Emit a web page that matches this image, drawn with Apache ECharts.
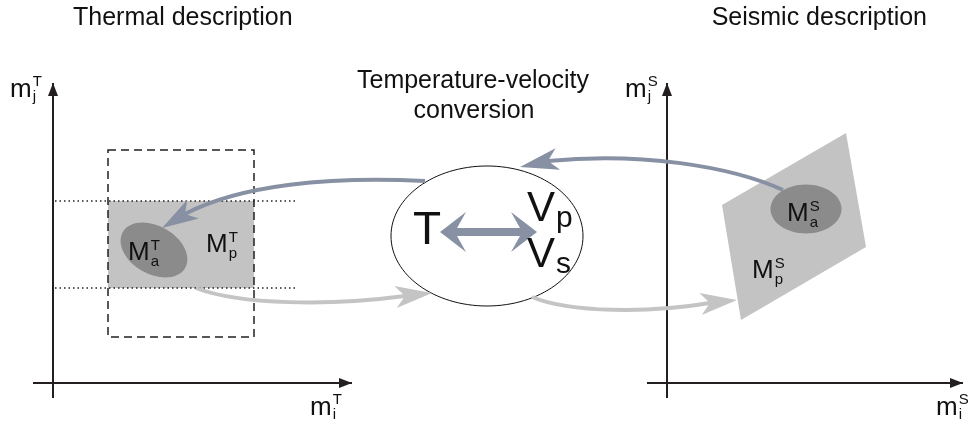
<!DOCTYPE html>
<html><head><meta charset="utf-8">
<script src="https://cdn.jsdelivr.net/npm/echarts@6/dist/echarts.min.js"></script>
<style>html,body{margin:0;padding:0;background:#fff}#c{width:972px;height:428px}</style>
</head><body><div id="c"></div>
<script>
// ---- Diagram content (coordinates are in a hidden 972 x 428 value-axis space, y downward) ----
const panelTitles = ['Thermal description', 'Seismic description'];
const panelTitleAnchors = [[73, 25], [927, 25]];
const conversionTitle = ['Temperature-velocity', 'conversion'];
const conversionTitleAnchors = [[473, 88], [474, 118]];

const thermalAxes = [[[33, 383], [352, 383]], [[53, 398], [53, 83]]];
const seismicAxes = [[[647, 383], [963, 383]], [[667, 398], [667, 83]]];

const priorBoxT = [[108, 150], [254, 337]];
const priorBandT = [[[55, 201], [297, 201]], [[55, 288], [297, 288]]];
const posteriorRectT = [[108, 201], [254, 288]];
const posteriorPolyS = [[722, 205], [846, 133], [866, 247], [741, 320]];
// cx, cy, rx, ry, tilt (deg, clockwise)
const acceptedRegions = [[154, 250, 36, 24, 30], [806, 209, 35.5, 24.5, 0]];
const conversionEllipse = [487, 236, 96, 70];

// symbol labels: main, superscript, subscript, anchor [left x, baseline]
const modelLabels = [
  ['M', 'T', 'a', [128, 260]],
  ['M', 'T', 'p', [206, 252]],
  ['M', 'S', 'a', [787, 221]],
  ['M', 'S', 'p', [752, 278]]
];
const axisLabels = [
  ['m', 'T', 'j', [10, 97]],
  ['m', 'T', 'i', [310, 415]],
  ['m', 'S', 'j', [625, 97]],
  ['m', 'S', 'i', [936, 415]]
];
const conversionSymbols = [['T', '', '', [413, 245]], ['V', '', 'p', [527, 222]], ['V', '', 's', [527, 268]]];

// curved arrows: bezier [start, cp1, cp2, head base], head tip
const updateArrows = [
  [[[425, 181], [330, 176], [240, 185], [185, 214]], [162, 228]],
  [[[783, 190], [730, 166], [640, 152], [548, 161]], [520, 167]]
];
const forwardArrows = [
  [[[196, 288], [240, 305], [330, 306], [405, 296]], [432, 293]],
  [[[532, 297], [570, 313], [650, 313], [710, 303]], [737, 300]]
];
const doubleArrow = [[440, 232], [466, 212], [457, 228], [520, 228], [511, 212], [537, 232],
                     [511, 252], [520, 236], [457, 236], [466, 252]];

const FONT = '"Liberation Sans", Arial, Helvetica, sans-serif';
const AX = '#231f20', BLUE = '#8791a3', LIGHT = '#c4c4c4', REGION = '#c3c3c3', DARK = '#8b8b8b';

const cv = document.createElement('canvas').getContext('2d');
function measure(s, size) { cv.font = size + 'px ' + FONT; return cv.measureText(s).width; }

function renderDiagram(params, api) {
  const P = p => api.coord(p);
  const kids = [];
  const line = (a, b, style) => {
    const A = P(a), B = P(b);
    kids.push({ type: 'line', shape: { x1: A[0], y1: A[1], x2: B[0], y2: B[1] }, style: style });
  };
  const text = (s, at, size, align, color) => {
    const A = P(at);
    kids.push({ type: 'text', x: A[0], y: A[1], style: { text: s, x: 0, y: 0, fontSize: size, fontFamily: FONT,
      fill: color || '#111', align: align || 'left', verticalAlign: 'bottom' }, z2: 10 });
  };
  // text placed on a baseline (bottom alignment corrected by descent)
  const textB = (s, at, size, align, color) => {
    text(s, [at[0], at[1] + size * 0.21], size, align, color);
  };
  const head = (base, tip, color, hw) => {
    const B = P(base), T = P(tip);
    const dx = T[0] - B[0], dy = T[1] - B[1];
    const L = Math.hypot(dx, dy), ux = dx / L, uy = dy / L, nx = -uy, ny = ux;
    const back = L * 1.35;
    kids.push({ type: 'polygon', shape: { points: [
      [T[0], T[1]],
      [T[0] - ux * back + nx * hw, T[1] - uy * back + ny * hw],
      [B[0], B[1]],
      [T[0] - ux * back - nx * hw, T[1] - uy * back - ny * hw]
    ] }, style: { fill: color }, z2: 5 });
  };
  const arrow = (a, color) => {
    const c = a[0].map(P);
    kids.push({ type: 'bezierCurve', shape: { x1: c[0][0], y1: c[0][1], cpx1: c[1][0], cpy1: c[1][1],
      cpx2: c[2][0], cpy2: c[2][1], x2: c[3][0], y2: c[3][1] },
      style: { stroke: color, lineWidth: 4, fill: null }, z2: 4 });
    head(a[0][3], a[1], color, 11);
  };
  const axisArrow = (seg) => {
    line(seg[0], seg[1], { stroke: AX, lineWidth: 2 });
    const T = P(seg[1]), S = P(seg[0]);
    const dx = T[0] - S[0], dy = T[1] - S[1], L = Math.hypot(dx, dy), ux = dx / L, uy = dy / L;
    const nx = -uy, ny = ux, len = 13, hw = 5;
    kids.push({ type: 'polygon', shape: { points: [[T[0], T[1]],
      [T[0] - ux * len + nx * hw, T[1] - uy * len + ny * hw],
      [T[0] - ux * len - nx * hw, T[1] - uy * len - ny * hw]] }, style: { fill: AX } });
  };
  const symbolLabel = (lab, size, subSize, supOff, subOff) => {
    const [main, sup, sub, at] = lab;
    textB(main, at, size);
    const mw = measure(main, size);
    if (sup) textB(sup, [at[0] + mw + 1, at[1] + supOff], subSize);
    if (sub) textB(sub, [at[0] + mw + 1, at[1] + subOff], subSize);
  };

  // posterior regions
  const rA = P(posteriorRectT[0]), rB = P(posteriorRectT[1]);
  kids.push({ type: 'rect', shape: { x: rA[0], y: rA[1], width: rB[0] - rA[0], height: rB[1] - rA[1] }, style: { fill: REGION } });
  kids.push({ type: 'polygon', shape: { points: posteriorPolyS.map(P) }, style: { fill: REGION } });
  // prior band (dotted) and prior box (dashed)
  priorBandT.forEach(s => line(s[0], s[1], { stroke: AX, lineWidth: 1.5, lineDash: [1.5, 3] }));
  const bA = P(priorBoxT[0]), bB = P(priorBoxT[1]);
  kids.push({ type: 'rect', shape: { x: bA[0], y: bA[1], width: bB[0] - bA[0], height: bB[1] - bA[1] },
    style: { fill: null, stroke: AX, lineWidth: 1.5, lineDash: [8, 5] } });
  // accepted regions
  acceptedRegions.forEach(e => {
    const C = P([e[0], e[1]]);
    const rx = P([e[0] + e[2], e[1]])[0] - C[0];
    const ry = P([e[0], e[1] + e[3]])[1] - C[1];
    kids.push({ type: 'ellipse', x: C[0], y: C[1], rotation: -e[4] * Math.PI / 180,
      shape: { cx: 0, cy: 0, rx: rx, ry: ry }, style: { fill: DARK } });
  });
  // axes
  thermalAxes.concat(seismicAxes).forEach(axisArrow);
  // conversion ellipse
  const EC = P([conversionEllipse[0], conversionEllipse[1]]);
  kids.push({ type: 'ellipse', shape: { cx: EC[0], cy: EC[1],
    rx: P([conversionEllipse[0] + conversionEllipse[2], 0])[0] - EC[0],
    ry: P([0, conversionEllipse[1] + conversionEllipse[3]])[1] - EC[1] },
    style: { fill: null, stroke: '#111', lineWidth: 1 } });
  // arrows
  updateArrows.forEach(a => arrow(a, BLUE));
  forwardArrows.forEach(a => arrow(a, LIGHT));
  kids.push({ type: 'polygon', shape: { points: doubleArrow.map(P) }, style: { fill: BLUE } });

  // texts
  panelTitles.forEach((t, i) => textB(t, panelTitleAnchors[i], 25, i === 0 ? 'left' : 'right'));
  conversionTitle.forEach((t, i) => textB(t, conversionTitleAnchors[i], 25, 'center'));
  modelLabels.forEach(l => symbolLabel(l, 26, 15, -10, 6));
  axisLabels.forEach(l => symbolLabel(l, 26, 15, -11, 4));
  symbolLabel(conversionSymbols[0], 46, 28, 0, 5);
  symbolLabel(conversionSymbols[1], 42, 30, 0, 5);
  symbolLabel(conversionSymbols[2], 42, 30, 0, 5);

  return { type: 'group', children: kids };
}

const chart = echarts.init(document.getElementById('c'), null, { renderer: 'canvas' });
chart.setOption({
  animation: false,
  backgroundColor: '#fff',
  grid: { left: 0, right: 0, top: 0, bottom: 0 },
  xAxis: { type: 'value', min: 0, max: 972, show: false },
  yAxis: { type: 'value', min: 0, max: 428, inverse: true, show: false },
  series: [{ type: 'custom', coordinateSystem: 'cartesian2d', clip: false, silent: true,
    data: [[0, 0]], renderItem: renderDiagram }]
});
</script></body></html>
